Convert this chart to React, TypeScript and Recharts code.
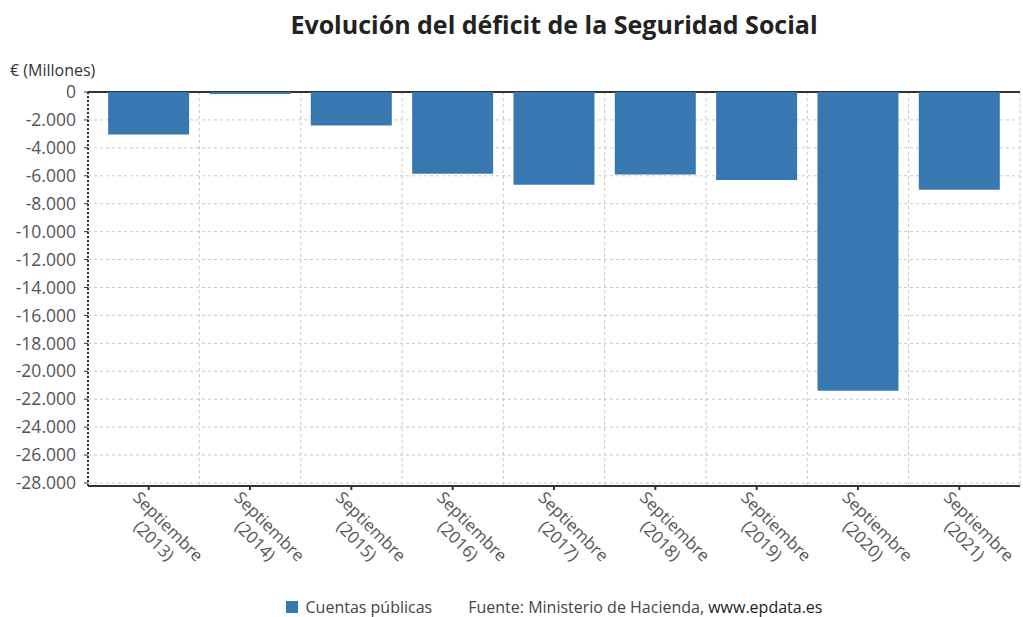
import React from "react";
import {
  BarChart,
  Bar,
  XAxis,
  YAxis,
  CartesianGrid,
  Legend,
} from "recharts";

const years = ["2013", "2014", "2015", "2016", "2017", "2018", "2019", "2020", "2021"];
const monthLabel = "Septiembre";
const deficit = [-3050, -150, -2400, -5850, -6650, -5900, -6300, -21400, -7000];
const yTicks = [0, -2000, -4000, -6000, -8000, -10000, -12000, -14000, -16000, -18000, -20000, -22000, -24000, -26000, -28000];
const gridXTicks = [-0.1, 1, 2, 3, 4, 5, 6, 7, 8, 9.1];
const zeroLine = [0];

const data = years.map((y, i) => ({ name: `${monthLabel} (${y})`, year: y, idx: i, value: deficit[i] }));

const FONT = "'Open Sans', 'Noto Sans', sans-serif";
const BAR_COLOR = "#3878b0";

const fmt = (v: number) => {
  const s = Math.abs(v).toString().replace(/\B(?=(\d{3})+(?!\d))/g, ".");
  return v < 0 ? "-" + s : s;
};

const XTick = (props: any) => {
  const { x, y, payload } = props;
  const yr = years[payload.index] ?? "";
  return (
    <g transform={`translate(${x - 8},${y - 3}) rotate(45)`}>
      <text textAnchor="middle" fill="#555" fontSize={16.8} fontFamily={FONT}>
        <tspan x={46} dy={13}>{monthLabel}</tspan>
        <tspan x={46} dy={20}>({yr})</tspan>
      </text>
    </g>
  );
};

const LegendContent = () => (
  <div
    style={{
      display: "flex",
      justifyContent: "center",
      alignItems: "center",
      fontFamily: FONT,
      fontSize: 16,
      color: "#444",
      height: 24,
      paddingTop: 6,
      paddingLeft: 88,
    }}
  >
    <span style={{ display: "inline-block", width: 12, height: 12, background: BAR_COLOR, marginRight: 8 }} />
    <span style={{ marginRight: 36 }}>Cuentas públicas</span>
    <span>
      Fuente: Ministerio de Hacienda, <span style={{ color: "#222" }}>www.epdata.es</span>
    </span>
  </div>
);

export default function App() {
  return (
    <div style={{ position: "absolute", left: 0, top: 0, width: 1023, height: 617, background: "#fff" }}>
      <div
        style={{
          position: "absolute",
          left: 88,
          width: 932,
          top: 7,
          textAlign: "center",
          fontFamily: FONT,
          fontWeight: 700,
          fontSize: 25,
          color: "#222",
        }}
      >
        Evolución del déficit de la Seguridad Social
      </div>
      <div
        style={{
          position: "absolute",
          left: 10,
          top: 59,
          fontFamily: FONT,
          fontSize: 16,
          color: "#333",
        }}
      >
        € (Millones)
      </div>
      <BarChart
        width={1023}
        height={617}
        data={data}
        margin={{ top: 92, right: 3, bottom: 0, left: 0 }}
        barCategoryGap="10%"
      >
        <XAxis
          xAxisId="grid"
          type="number"
          dataKey="idx"
          domain={[-0.1, 9.1]}
          ticks={gridXTicks}
          hide
          allowDataOverflow
        />
        <CartesianGrid
          xAxisId="grid"
          stroke="#c8c8c8"
          strokeDasharray="3 3"
          vertical
          horizontal
        />
        <CartesianGrid
          xAxisId="grid"
          stroke="#333"
          strokeWidth={2}
          vertical={false}
          horizontal
          horizontalValues={zeroLine}
        />
        <XAxis
          dataKey="name"
          height={103}
          padding={{ left: 10, right: 10 }}
          interval={0}
          tick={<XTick />}
          tickSize={4}
          tickMargin={2}
          axisLine={{ stroke: "#333", strokeWidth: 2 }}
          tickLine={{ stroke: "#333", strokeWidth: 2 }}
        />
        <YAxis
          width={88}
          domain={[-28000, 0]}
          ticks={yTicks}
          interval={0}
          tickFormatter={fmt}
          tick={{ fill: "#555", fontSize: 17.5, fontFamily: FONT }}
          tickSize={4}
          tickMargin={8}
          axisLine={{ stroke: "#333", strokeDasharray: "2 2", strokeWidth: 2 }}
          tickLine={{ stroke: "#333" }}
          padding={{ top: 0, bottom: 3 }}
        />
        <Bar dataKey="value" fill={BAR_COLOR} isAnimationActive={false} />
        <Legend
          verticalAlign="bottom"
          content={<LegendContent />}
          wrapperStyle={{ height: 28 }}
        />
      </BarChart>
    </div>
  );
}
